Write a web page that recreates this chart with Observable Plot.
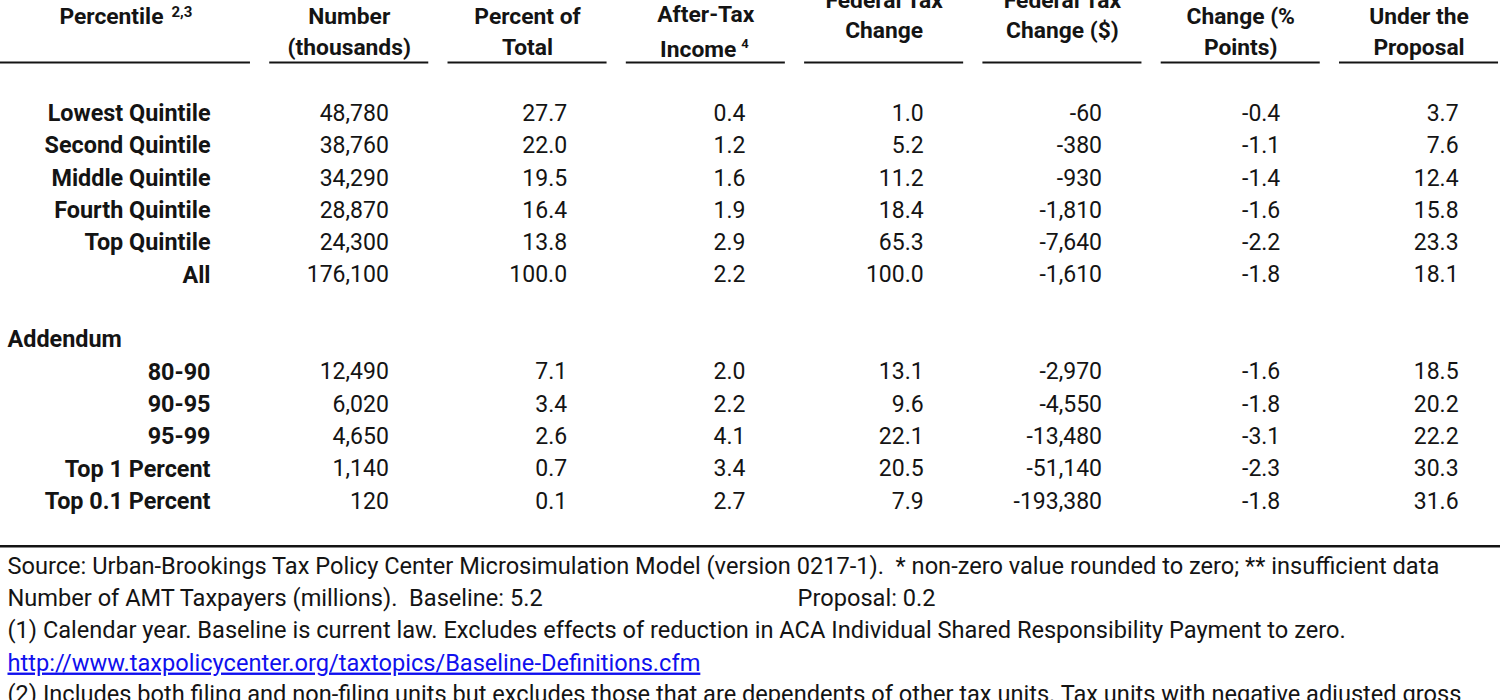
<!DOCTYPE html>
<html><head><meta charset="utf-8">
<script src="https://cdn.jsdelivr.net/npm/d3@7"></script>
<script src="https://cdn.jsdelivr.net/npm/@observablehq/plot@0.6"></script>
<style>
html,body{margin:0;padding:0;background:#fff;overflow:hidden}
#chart svg{overflow:hidden;display:block}
#chart svg a text{text-decoration:underline}
</style></head><body><div id="chart"></div>
<script>
// ---------- data ----------
const percentiles = ["Lowest Quintile","Second Quintile","Middle Quintile","Fourth Quintile","Top Quintile","All"];
const addendumGroups = ["80-90","90-95","95-99","Top 1 Percent","Top 0.1 Percent"];
const numberThousands = [48780,38760,34290,28870,24300,176100,12490,6020,4650,1140,120];
const percentOfTotal = [27.7,22.0,19.5,16.4,13.8,100.0,7.1,3.4,2.6,0.7,0.1];
const afterTaxIncomeChange = [0.4,1.2,1.6,1.9,2.9,2.2,2.0,2.2,4.1,3.4,2.7];
const shareOfTaxChange = [1.0,5.2,11.2,18.4,65.3,100.0,13.1,9.6,22.1,20.5,7.9];
const avgTaxChangeDollars = [-60,-380,-930,-1810,-7640,-1610,-2970,-4550,-13480,-51140,-193380];
const shareChangePoints = [-0.4,-1.1,-1.4,-1.6,-2.2,-1.8,-1.6,-1.8,-3.1,-2.3,-1.8];
const taxRateUnderProposal = [3.7,7.6,12.4,15.8,23.3,18.1,18.5,20.2,22.2,30.3,31.6];

const headerLines = [
  ["Percentile"],
  ["Number","(thousands)"],
  ["Percent of","Total"],
  ["After-Tax","Income"],
  ["Federal Tax","Change"],
  ["Federal Tax","Change ($)"],
  ["Change (%","Points)"],
  ["Under the","Proposal"]
];
const headerNotes = ["2,3", "4"];
const addendumTitle = "Addendum";
const footnotes = [
  "Source: Urban-Brookings Tax Policy Center Microsimulation Model (version 0217-1).  * non-zero value rounded to zero; ** insufficient data",
  "Number of AMT Taxpayers (millions).  Baseline: 5.2",
  "(1) Calendar year. Baseline is current law. Excludes effects of reduction in ACA Individual Shared Responsibility Payment to zero.",
  "http://www.taxpolicycenter.org/taxtopics/Baseline-Definitions.cfm",
  "(2) Includes both filing and non-filing units but excludes those that are dependents of other tax units. Tax units with negative adjusted gross"
];
const proposalNote = "Proposal: 0.2";

// ---------- layout (column units / row units) ----------
const X_DOMAIN = [-0.402, 8.011];
const Y_DOMAIN = [-3.495, 18.16];
const colRight = c => c + 1;
const textInset = 0.224;
const underlineWidth = 0.892;
const dataRows = [0,1,2,3,4,5,8,9,10,11,12];
const addendumRow = 7;
const underlineRow = -1.577;
const bottomRuleRow = 13.39;
const footRows = [14.01,15.0,16.0,17.0,17.97];
const headerRows = [[-2.985],[-2.985,-2.026],[-2.985,-2.026],[-3.06,-1.96],[-3.5,-2.57],[-3.5,-2.57],[-2.985,-2.026],[-2.985,-2.026]];
const noteAnchors = [{col:0, line:0, junction:0.512, row:-3.12, size:15, dx:8}, {col:3, line:1, junction:3.725, row:-2.15, size:13, dx:5}];

// ---------- build tables ----------
const loc = d3.formatLocale({decimal:".", thousands:",", grouping:[3], currency:["$",""], minus:"-"});
const fInt = loc.format(","), f1 = loc.format(".1f");
const labels = percentiles.concat(addendumGroups);
const valueColumns = [
  [1, numberThousands, fInt],
  [2, percentOfTotal, f1],
  [3, afterTaxIncomeChange, f1],
  [4, shareOfTaxChange, f1],
  [5, avgTaxChangeDollars, fInt],
  [6, shareChangePoints, f1],
  [7, taxRateUnderProposal, f1]
];
const cells = valueColumns.flatMap(([col, values, f]) =>
  values.map((v, k) => ({x: colRight(col) - textInset, y: dataRows[k], text: f(v)})));
const labelCells = labels.map((t, k) => ({x: colRight(0) - textInset, y: dataRows[k], text: t}));

const headerCentered = [], headerEnd = [];
headerLines.forEach((lines, col) => lines.forEach((t, i) => {
  const n = noteAnchors.find(n => n.col === col && n.line === i);
  if (n) headerEnd.push({x: n.junction, y: headerRows[col][i], text: t});
  else headerCentered.push({x: colRight(col) - underlineWidth / 2, y: headerRows[col][i], text: t});
}));
const notes = noteAnchors.map((n, i) => ({x: n.junction, y: n.row, text: headerNotes[i]}));
const underlines = headerLines.map((_, col) => ({
  x1: col === 0 ? X_DOMAIN[0] : colRight(col) - underlineWidth, x2: colRight(col), y: underlineRow}));
const footData = footnotes.map((t, i) => ({y: footRows[i], text: t, link: t.startsWith("http") ? t : null}));

const ink = "#141414";
const chart = Plot.plot({
  width: 1500, height: 700, margin: 0,
  x: {domain: X_DOMAIN, range: [0, 1500], axis: null},
  y: {domain: Y_DOMAIN, range: [0, 700], axis: null},
  style: {fontFamily: "Roboto, 'Noto Sans', sans-serif", background: "#fff", color: ink},
  marks: [
    Plot.ruleY(underlines, {y: "y", x1: "x1", x2: "x2", stroke: ink, strokeWidth: 2}),
    Plot.ruleY([bottomRuleRow], {stroke: ink, strokeWidth: 2.5}),
    Plot.text(headerCentered, {x: "x", y: "y", text: "text", textAnchor: "middle", fontWeight: "bold", fontSize: 22.8, fill: ink}),
    Plot.text(headerEnd, {x: "x", y: "y", text: "text", textAnchor: "end", fontWeight: "bold", fontSize: 22.8, fill: ink}),
    Plot.text(notes.slice(0, 1), {x: "x", y: "y", text: "text", textAnchor: "start", dx: noteAnchors[0].dx, fontWeight: "bold", fontSize: noteAnchors[0].size, fill: ink}),
    Plot.text(notes.slice(1, 2), {x: "x", y: "y", text: "text", textAnchor: "start", dx: noteAnchors[1].dx, fontWeight: "bold", fontSize: noteAnchors[1].size, fill: ink}),
    Plot.text(labelCells, {x: "x", y: "y", text: "text", textAnchor: "end", fontWeight: "bold", fontSize: 23.4, fill: ink}),
    Plot.text([{y: addendumRow, text: addendumTitle}], {y: "y", text: "text", frameAnchor: "left", textAnchor: "start", dx: 7, fontWeight: "bold", fontSize: 23.4, fill: ink}),
    Plot.text(cells, {x: "x", y: "y", text: "text", textAnchor: "end", fontSize: 23, fill: ink}),
    Plot.text(footData.filter(d => !d.link), {y: "y", text: "text", frameAnchor: "left", textAnchor: "start", dx: 7, fontSize: 23.6, fill: ink}),
    Plot.text(footData.filter(d => d.link), {y: "y", text: "text", href: "link", frameAnchor: "left", textAnchor: "start", dx: 7, fontSize: 23.6, fill: "#1010ee"}),
    Plot.text([{x: colRight(4) - underlineWidth, y: footRows[1], text: proposalNote}], {x: "x", y: "y", text: "text", textAnchor: "start", dx: -7, fontSize: 23.6, fill: ink})
  ]
});
document.getElementById("chart").appendChild(chart);
</script></body></html>
